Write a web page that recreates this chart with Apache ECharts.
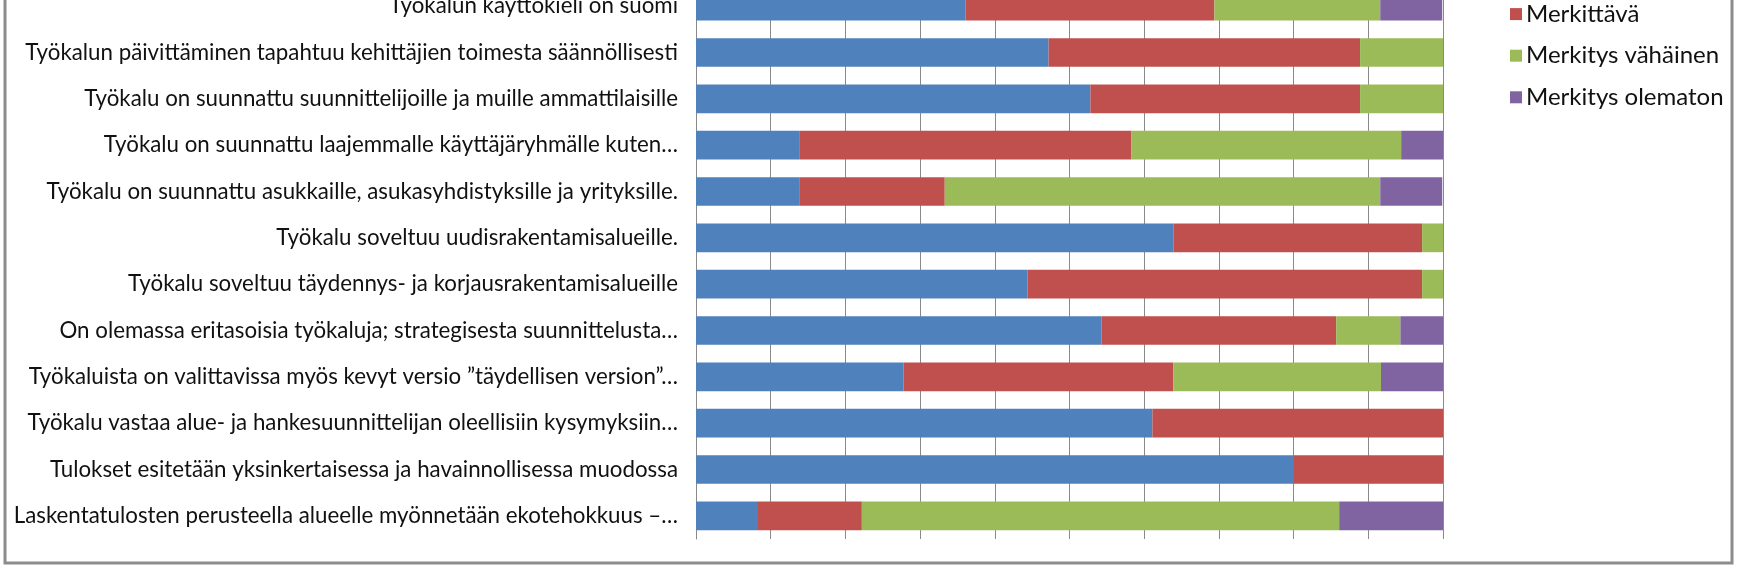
<!DOCTYPE html>
<html><head><meta charset="utf-8">
<script src="https://cdn.jsdelivr.net/npm/echarts@6/dist/echarts.min.js"></script>
<style>html,body{margin:0;padding:0;background:#fff;overflow:hidden;width:1738px;height:568px;}
#wrap{position:relative;width:1738px;height:568px;overflow:hidden;}
#c{position:absolute;left:0;top:-60px;width:1738px;height:628px;}</style>
</head><body><div id="wrap"><div id="c"></div></div>
<script>
const categories = [
  "Työkalun käyttökieli on suomi",
  "Työkalun päivittäminen tapahtuu kehittäjien toimesta säännöllisesti",
  "Työkalu on suunnattu suunnittelijoille ja muille ammattilaisille",
  "Työkalu on suunnattu laajemmalle käyttäjäryhmälle kuten…",
  "Työkalu on suunnattu asukkaille, asukasyhdistyksille ja yrityksille.",
  "Työkalu soveltuu uudisrakentamisalueille.",
  "Työkalu soveltuu täydennys- ja korjausrakentamisalueille",
  "On olemassa eritasoisia työkaluja; strategisesta suunnittelusta…",
  "Työkaluista on valittavissa myös kevyt versio ”täydellisen version”…",
  "Työkalu vastaa alue- ja hankesuunnittelijan oleellisiin kysymyksiin…",
  "Tulokset esitetään yksinkertaisessa ja havainnollisessa muodossa",
  "Laskentatulosten perusteella alueelle myönnetään ekotehokkuus –…"
];
const seriesNames = ["Erittäin merkittävä", "Merkittävä", "Merkitys vähäinen", "Merkitys olematon"];
const erittainMerkittava = [36.1, 47.2, 52.8, 13.9, 13.9, 63.9, 44.4, 54.3, 27.8, 61.1, 80.0, 8.3];
const merkittava         = [33.3, 41.7, 36.1, 44.4, 19.4, 33.3, 52.8, 31.4, 36.1, 38.9, 20.0, 13.9];
const merkitysVahainen   = [22.2, 11.1, 11.1, 36.1, 58.3,  2.8,  2.8,  8.6, 27.8,  0.0,  0.0, 63.9];
const merkitysOlematon   = [ 8.3,  0.0,  0.0,  5.6,  8.3,  0.0,  0.0,  5.7,  8.3,  0.0,  0.0, 13.9];
const xTicks = [0, 10, 20, 30, 40, 50, 60, 70, 80, 90, 100];

const colors = ["#4F81BD", "#C0504D", "#9BBB59", "#8064A2"];
const values = [erittainMerkittava, merkittava, merkitysVahainen, merkitysOlematon];
const FONT = "Lato";
const OFF = 60; // container is shifted up by this many pixels

const chart = echarts.init(document.getElementById('c'), null, {renderer: 'canvas'});
chart.setOption({
  animation: false,
  backgroundColor: '#ffffff',
  color: colors,
  grid: {left: 696, right: 295, top: OFF - 17, bottom: 29, containLabel: false},
  legend: {
    orient: 'vertical', left: 1505, top: OFF - 45.5,
    itemWidth: 12, itemHeight: 12, itemGap: 15.6,
    icon: 'rect',
    data: seriesNames,
    textStyle: {fontFamily: FONT, fontSize: 24, color: '#111111', lineHeight: 26, padding: [0, 0, 0, -1]}
  },
  xAxis: {
    type: 'value', min: xTicks[0], max: xTicks[xTicks.length - 1], interval: 10,
    axisLabel: {show: false}, axisTick: {show: false}, axisLine: {show: false},
    splitLine: {show: true, lineStyle: {color: '#8a8a8a', width: 1}}
  },
  yAxis: {
    type: 'category', data: categories, inverse: true,
    axisLine: {show: true, lineStyle: {color: '#8a8a8a'}},
    axisTick: {show: false},
    axisLabel: {fontFamily: FONT, fontSize: 22.3, color: '#111111', margin: 18}
  },
  series: seriesNames.map((name, i) => ({
    name, type: 'bar', stack: 'total', data: values[i],
    barCategoryGap: '38%',
    itemStyle: {color: colors[i]}
  })),
  graphic: [{
    type: 'rect', silent: true, z: 100,
    shape: {x: 5, y: OFF - 20, width: 1727, height: 583},
    style: {fill: 'none', stroke: '#8c8c8c', lineWidth: 3}
  }]
});
</script></body></html>
